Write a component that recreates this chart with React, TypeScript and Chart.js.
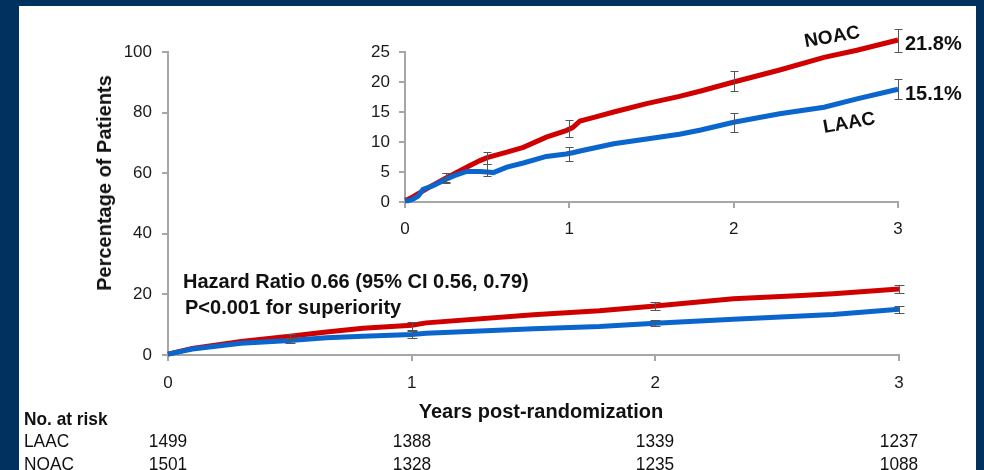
import React, { useEffect, useRef } from "react";
import { Chart, registerables } from "chart.js";

Chart.register(...registerables);

const FONT = '"Liberation Sans", Arial, Helvetica, sans-serif';
const RED = "#d00000";
const BLUE = "#0a66cc";
const AXIS = "#a6a6a6";
const NAVY = "#01325f";

// ---------- Main chart (full scale 0-100 %) ----------
const mainYears = [0, 0.1, 0.3, 0.5, 0.65, 0.8, 1.0, 1.06, 1.5, 1.77, 2.0, 2.32, 2.6, 2.73, 3.0];
const mainNOAC = [0.3, 2.2, 4.5, 6.2, 7.6, 8.8, 9.8, 10.6, 13.3, 14.6, 16.2, 18.6, 19.6, 20.2, 21.8];
const mainLAAC = [0.3, 2.0, 3.9, 4.8, 5.7, 6.2, 6.8, 7.2, 8.7, 9.4, 10.5, 11.8, 12.9, 13.4, 15.1];

const mainBarYears = [0.5, 1, 2, 3];
const mainNOACLow = [5.3, 8.4, 14.8, 20.3];
const mainNOACHigh = [7.0, 10.9, 17.4, 23.2];
const mainLAACLow = [4.0, 5.6, 9.5, 13.7];
const mainLAACHigh = [5.5, 8.0, 11.6, 16.3];

const mainXTicks = [0, 1, 2, 3];
const mainYMax = 100;
const mainYStep = 20;

// ---------- Inset (zoomed 0-25 %) ----------
const insetYears = [0, 0.02, 0.05, 0.08, 0.11, 0.17, 0.25, 0.3, 0.375, 0.456, 0.5, 0.537, 0.62, 0.72, 0.86, 0.98, 1.02, 1.065, 1.15, 1.27, 1.47, 1.67, 1.8, 2.0, 2.28, 2.55, 2.75, 3.0];
const insetNOAC = [0.3, 0.45, 0.9, 1.4, 1.85, 2.8, 4.0, 4.7, 5.8, 6.9, 7.4, 7.7, 8.3, 9.1, 10.8, 11.9, 12.4, 13.5, 14.1, 15.0, 16.4, 17.6, 18.5, 20.0, 22.0, 24.1, 25.3, 27.0];
const insetLAAC = [0.2, 0.2, 0.5, 1.0, 2.1, 2.7, 3.8, 4.4, 5.1, 5.1, 5.0, 4.9, 5.8, 6.5, 7.6, 8.0, 8.2, 8.5, 9.0, 9.7, 10.5, 11.3, 12.0, 13.3, 14.7, 15.8, 17.2, 18.8];

const insetBarYears = [0.25, 0.5, 1, 2, 3];
const insetNOACLow = [3.3, 6.3, 10.8, 18.5, 25.0];
const insetNOACHigh = [4.9, 8.4, 13.6, 21.8, 28.9];
const insetLAACLow = [3.2, 4.3, 6.9, 11.7, 17.1];
const insetLAACHigh = [4.8, 6.3, 9.1, 14.8, 20.5];

const insetYMax = 25;
const insetYStep = 5;

// ---------- Labels / table ----------
const seriesNames = ["LAAC", "NOAC"];
const finalLAAC = "15.1%";
const finalNOAC = "21.8%";
const hrLine1 = "Hazard Ratio 0.66 (95% CI 0.56, 0.79)";
const hrLine2 = "P<0.001 for superiority";
const xTitle = "Years post-randomization";
const yTitle = "Percentage of Patients";
const riskTitle = "No. at risk";
const riskLAAC = [1499, 1388, 1339, 1237];
const riskNOAC = [1501, 1328, 1235, 1088];

const toPts = (xs: number[], ys: number[]) => xs.map((x, i) => ({ x, y: ys[i] }));

const errorBarPlugin = {
  id: "errorBars",
  afterDatasetsDraw(chart: any, _args: any, opts: any) {
    const { ctx } = chart;
    const x = chart.scales.x;
    const y = chart.scales.y;
    ctx.save();
    ctx.strokeStyle = opts.color || "#555";
    ctx.lineWidth = 1;
    for (const s of opts.sets || []) {
      s.xs.forEach((xv: number, i: number) => {
        const px = Math.round(x.getPixelForValue(xv)) + 0.5;
        const y1 = Math.round(y.getPixelForValue(s.low[i])) + 0.5;
        const y2 = Math.round(y.getPixelForValue(s.high[i])) + 0.5;
        ctx.beginPath();
        ctx.moveTo(px, y1);
        ctx.lineTo(px, y2);
        ctx.moveTo(px - opts.cap, y1);
        ctx.lineTo(px + opts.cap, y1);
        ctx.moveTo(px - opts.cap, y2);
        ctx.lineTo(px + opts.cap, y2);
        ctx.stroke();
      });
    }
    ctx.restore();
  },
};

function makeConfig(p: {
  years: number[];
  noac: number[];
  laac: number[];
  yMax: number;
  yStep: number;
  yAxisWidth: number;
  xAxisHeight: number;
  padTop: number;
  padRight: number;
  yPad: number;
  xPad: number;
  bars: any[];
  cap: number;
}): any {
  const tickFont = { family: FONT, size: 17 };
  return {
    type: "line",
    data: {
      datasets: [
        {
          label: seriesNames[0],
          data: toPts(p.years, p.laac),
          borderColor: BLUE,
          backgroundColor: BLUE,
          borderWidth: 5,
          pointRadius: 0,
          tension: 0,
          clip: false,
        },
        {
          label: seriesNames[1],
          data: toPts(p.years, p.noac),
          borderColor: RED,
          backgroundColor: RED,
          borderWidth: 5,
          pointRadius: 0,
          tension: 0,
          clip: false,
        },
      ],
    },
    options: {
      responsive: false,
      animation: false,
      events: [],
      layout: { padding: { left: 0, top: p.padTop, right: p.padRight, bottom: 0 } },
      plugins: {
        legend: { display: false },
        tooltip: { enabled: false },
        title: { display: false },
        errorBars: { sets: p.bars, cap: p.cap, color: "#555555" },
      },
      scales: {
        x: {
          type: "linear",
          min: 0,
          max: 3,
          ticks: { stepSize: 1, font: tickFont, color: "#1a1a1a", padding: p.xPad, maxRotation: 0 },
          grid: { drawOnChartArea: false, drawTicks: true, tickLength: 6, color: AXIS, lineWidth: 2 },
          border: { display: true, color: AXIS, width: 2 },
          afterFit: (s: any) => {
            s.height = p.xAxisHeight;
          },
        },
        y: {
          type: "linear",
          min: 0,
          max: p.yMax,
          ticks: { stepSize: p.yStep, font: tickFont, color: "#1a1a1a", padding: p.yPad },
          grid: { drawOnChartArea: false, drawTicks: true, tickLength: 6, color: AXIS, lineWidth: 2 },
          border: { display: true, color: AXIS, width: 2 },
          afterFit: (s: any) => {
            s.width = p.yAxisWidth;
          },
        },
      },
    },
    plugins: [errorBarPlugin],
  };
}

const txt = (extra: React.CSSProperties): React.CSSProperties => ({
  position: "absolute",
  fontFamily: FONT,
  color: "#111",
  whiteSpace: "nowrap",
  lineHeight: 1,
  ...extra,
});

export default function App() {
  const mainRef = useRef<HTMLCanvasElement | null>(null);
  const insetRef = useRef<HTMLCanvasElement | null>(null);

  useEffect(() => {
    const main = new Chart(
      mainRef.current as HTMLCanvasElement,
      makeConfig({
        years: mainYears,
        noac: mainNOAC,
        laac: mainLAAC,
        yMax: mainYMax,
        yStep: mainYStep,
        yAxisWidth: 168,
        xAxisHeight: 470 - 355,
        padTop: 52,
        padRight: 984 - 899,
        yPad: 10,
        xPad: 12,
        bars: [
          { xs: mainBarYears, low: mainNOACLow, high: mainNOACHigh },
          { xs: mainBarYears, low: mainLAACLow, high: mainLAACHigh },
        ],
        cap: 5,
      })
    );
    const inset = new Chart(
      insetRef.current as HTMLCanvasElement,
      makeConfig({
        years: insetYears,
        noac: insetNOAC,
        laac: insetLAAC,
        yMax: insetYMax,
        yStep: insetYStep,
        yAxisWidth: 405 - 330,
        xAxisHeight: 260 - 202,
        padTop: 52,
        padRight: 650 - (898 - 330),
        yPad: 9,
        xPad: 11,
        bars: [
          { xs: insetBarYears, low: insetNOACLow, high: insetNOACHigh },
          { xs: insetBarYears, low: insetLAACLow, high: insetLAACHigh },
        ],
        cap: 4,
      })
    );
    return () => {
      main.destroy();
      inset.destroy();
    };
  }, []);

  const colX = mainXTicks.map((t) => 168 + t * 243.7);

  return (
    <div
      style={{
        position: "fixed",
        left: 0,
        top: 0,
        width: 984,
        height: 470,
        background: NAVY,
        overflow: "hidden",
      }}
    >
      <div style={{ position: "absolute", left: 19, top: 6, width: 976 - 19, height: 470 - 6, background: "#fff" }} />
      <canvas
        ref={mainRef}
        width={984}
        height={470}
        style={{ position: "absolute", left: 0, top: 0, width: 984, height: 470 }}
      />
      <canvas
        ref={insetRef}
        width={650}
        height={260}
        style={{ position: "absolute", left: 330, top: 0, width: 650, height: 260 }}
      />

      {/* Axis titles */}
      <div
        style={txt({
          left: 104,
          top: 183,
          fontSize: 20,
          fontWeight: 700,
          transform: "translate(-50%, -50%) rotate(-90deg)",
        })}
      >
        {yTitle}
      </div>
      <div style={txt({ left: 541, top: 411, fontSize: 20, fontWeight: 700, transform: "translate(-50%, -50%)" })}>
        {xTitle}
      </div>

      {/* Hazard ratio */}
      <div style={txt({ left: 183, top: 281, fontSize: 20, fontWeight: 700, transform: "translateY(-50%)" })}>
        {hrLine1}
      </div>
      <div style={txt({ left: 185, top: 307, fontSize: 20, fontWeight: 700, transform: "translateY(-50%)" })}>
        {hrLine2}
      </div>

      {/* Series labels on inset */}
      <div
        style={txt({
          left: 832,
          top: 36,
          fontSize: 19,
          fontWeight: 700,
          transform: "translate(-50%, -50%) rotate(-10deg)",
        })}
      >
        {seriesNames[1]}
      </div>
      <div
        style={txt({
          left: 849,
          top: 122,
          fontSize: 19,
          fontWeight: 700,
          transform: "translate(-50%, -50%) rotate(-10deg)",
        })}
      >
        {seriesNames[0]}
      </div>
      <div style={txt({ left: 905, top: 43, fontSize: 20, fontWeight: 700, transform: "translateY(-50%)" })}>
        {finalNOAC}
      </div>
      <div style={txt({ left: 905, top: 93, fontSize: 20, fontWeight: 700, transform: "translateY(-50%)" })}>
        {finalLAAC}
      </div>

      {/* Risk table */}
      <div
        style={txt({
          left: 24,
          top: 418,
          fontSize: 19,
          fontWeight: 700,
          transform: "translateY(-50%) scaleX(0.91)",
          transformOrigin: "left center",
        })}
      >
        {riskTitle}
      </div>
      {[
        { name: seriesNames[0], vals: riskLAAC, y: 440 },
        { name: seriesNames[1], vals: riskNOAC, y: 463 },
      ].map((row) => (
        <React.Fragment key={row.name}>
          <div
            style={txt({
              left: 24,
              top: row.y,
              fontSize: 19,
              transform: "translateY(-50%) scaleX(0.91)",
              transformOrigin: "left center",
            })}
          >
            {row.name}
          </div>
          {row.vals.map((v, i) => (
            <div
              key={i}
              style={txt({
                left: colX[i],
                top: row.y,
                fontSize: 19,
                transform: "translate(-50%, -50%) scaleX(0.91)",
              })}
            >
              {v}
            </div>
          ))}
        </React.Fragment>
      ))}
    </div>
  );
}
